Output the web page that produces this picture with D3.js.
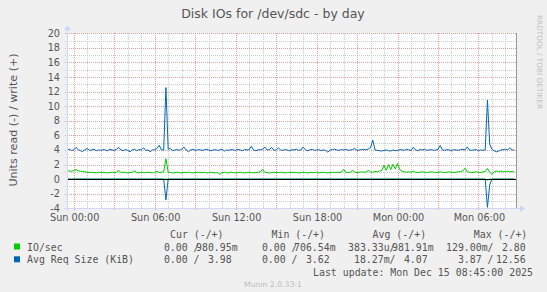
<!DOCTYPE html>
<html>
<head>
<meta charset="utf-8">
<script src="https://cdn.jsdelivr.net/npm/d3@7"></script>
<style>
body { margin: 0; background: #f0f0f0; }
svg { display: block; }
text { font-family: "DejaVu Sans", sans-serif; fill: #555; }
.mono { font-family: "DejaVu Sans Mono", monospace; font-size: 9.9px; white-space: pre; }
</style>
</head>
<body>
<svg width="547" height="292"></svg>
<script>
// samples every 10 minutes, starting Sat 23:30
const start_time = Date.UTC(2025, 11, 13, 23, 30)
const end_time = Date.UTC(2025, 11, 15, 8, 47)
const step_minutes = 10

const io_write = [
    1.1, 1.15, 1.05, 1.2, 1.3, 1.15, 1.1, 1.05, 1.0, 0.95, 0.9, 0.95, 0.9, 0.85, 0.95, 0.9, 0.95, 0.9, 0.85, 0.9,
    0.95, 0.9, 0.95, 1.2, 0.9, 0.95, 0.9, 0.85, 0.9, 0.95, 1.15, 0.9, 0.85, 0.95, 0.9, 0.9, 0.95, 0.9, 0.85, 0.95,
    1.1, 0.9, 0.95, 1.0, 2.8, 0.95, 0.9, 0.85, 0.9, 0.95, 0.9, 0.85, 0.95, 0.9, 0.95, 0.9, 0.85, 0.9, 0.95, 0.9,
    0.9, 0.95, 0.85, 0.9, 0.95, 0.9, 0.85, 0.9, 0.65, 0.9, 0.95, 0.85, 0.9, 0.95, 0.9, 0.85, 0.9, 0.95, 0.9, 0.85,
    0.9, 0.95, 0.9, 0.85, 0.9, 0.95, 1.0, 1.35, 0.95, 0.9, 0.85, 0.9, 0.95, 0.9, 0.9, 0.95, 0.9, 0.85, 0.9, 0.95,
    0.9, 0.95, 0.9, 0.85, 0.9, 0.95, 0.9, 0.85, 0.95, 0.9, 0.9, 0.95, 0.85, 0.9, 0.95, 0.9, 0.85, 0.9, 0.95, 0.9,
    0.95, 0.9, 0.95, 1.35, 0.95, 0.9, 0.95, 1.2, 0.95, 0.9, 0.95, 1.0, 0.95, 0.95, 1.2, 1.0, 0.95, 1.05, 1.0, 1.1,
    1.2, 1.9, 1.2, 2.0, 1.3, 2.05, 1.4, 2.15, 1.3, 1.1, 1.0, 0.95, 1.0, 0.95, 1.1, 0.95, 0.9, 0.95, 1.0, 0.95,
    0.9, 0.95, 1.0, 0.95, 0.9, 0.95, 1.0, 0.95, 0.9, 0.95, 1.0, 0.95, 0.9, 0.95, 1.0, 1.05, 1.1, 1.5, 1.0, 0.95,
    0.9, 0.95, 1.0, 0.95, 0.9, 1.0, 1.05, 1.45, 0.95, 0.65, 1.0, 1.1, 1.05, 1.1, 1.0, 1.05, 1.1, 1.0, 1.05, 0.98
]
// [sample index, value] for the few non-zero read samples
const io_read = [[187, 0.129]]

const req_write = [
    4.0, 4.1, 3.95, 4.0, 4.35, 4.05, 3.9, 3.8, 4.05, 4.2, 3.95, 4.0, 4.1, 3.9, 4.0, 3.95, 4.05, 4.0, 3.9, 4.1,
    4.0, 3.95, 4.1, 4.35, 4.0, 3.9, 4.05, 3.95, 3.75, 4.0, 4.1, 3.9, 4.05, 4.0, 4.3, 3.95, 4.0, 3.75, 4.0, 4.05,
    4.2, 4.65, 4.0, 4.0, 12.56, 4.1, 4.2, 3.9, 4.0, 4.05, 3.95, 4.1, 4.4, 4.0, 3.75, 4.0, 4.1, 3.95, 4.0, 4.05,
    3.95, 4.0, 4.1, 4.0, 3.9, 4.0, 4.05, 3.95, 4.0, 4.1, 3.85, 4.0, 3.95, 4.05, 4.0, 3.95, 4.1, 4.0, 3.9, 4.05,
    4.0, 4.05, 4.5, 4.0, 3.9, 4.0, 4.05, 4.1, 4.4, 4.0, 4.05, 4.35, 3.95, 4.0, 4.3, 4.0, 3.95, 4.05, 4.0, 3.9,
    4.05, 4.0, 4.1, 3.95, 4.0, 4.4, 4.05, 3.9, 4.0, 4.1, 3.95, 4.0, 4.05, 3.9, 4.0, 3.95, 3.7, 4.0, 4.05, 4.1,
    4.0, 3.95, 4.05, 4.0, 4.1, 3.95, 4.0, 4.05, 4.2, 3.95, 4.0, 4.05, 4.1, 4.0, 4.15, 4.3, 5.35, 4.0, 3.95, 3.9,
    3.85, 3.95, 4.0, 3.9, 3.85, 4.0, 3.9, 3.95, 4.05, 4.0, 3.95, 4.1, 4.0, 3.95, 4.35, 4.0, 3.9, 4.05, 4.0, 4.1,
    3.95, 4.0, 4.05, 3.95, 4.0, 4.1, 4.6, 4.0, 3.95, 4.05, 4.0, 3.9, 4.05, 4.0, 3.95, 4.05, 4.1, 4.0, 4.4, 4.0,
    3.95, 4.0, 4.05, 3.9, 4.0, 3.95, 4.0, 10.86, 4.8, 4.1, 3.9, 3.75, 3.85, 4.0, 4.05, 4.1, 4.0, 4.3, 4.0, 3.98
]
const req_read = [[44, 2.85], [187, 3.87], [188, 0.8]]

const y_ticks = [-4, -2, 0, 2, 4, 6, 8, 10, 12, 14, 16, 18, 20]

const legend_labels = ["IO/sec", "Avg Req Size (KiB)"]
const legend_colors = ["#00cc00", "#0066b3"]
const legend_headers = ["Cur (-/+)", "Min (-/+)", "Avg (-/+)", "Max (-/+)"]
// [read, write] per row
const cur_values = [["0.00", "980.95m"], ["0.00", "3.98"]]
const min_values = [["0.00", "706.54m"], ["0.00", "3.62"]]
const avg_values = [["383.33u", "981.91m"], ["18.27m", "4.07"]]
const max_values = [["129.00m", "2.80"], ["3.87", "12.56"]]

const plot_left = 67, plot_right = 516, plot_top = 33.3, plot_bottom = 208.3
const axis_color = "#cfd6f8"
const grid_color = "#cccccc"
const mgrid_color = "#f29a9a"

// legend layout
const header_x = [170, 271.5, 372.6, 473.8]
const column_x = [152, 250, 348, 446]
const write_offset = 44

const svg = d3.select("svg")

const x = d3.scaleUtc().domain([start_time, end_time]).range([plot_left, plot_right])
const y = d3.scaleLinear().domain([-4, 20]).range([plot_bottom, plot_top])

const sample_time = i => start_time + i * step_minutes * 60000

function full_series(values) {
    return values.map((v, i) => ({ t: sample_time(i), v: v }))
}

function read_series(samples) {
    const lookup = new Map(samples)
    return io_write.map((_, i) => ({ t: sample_time(i), v: -(lookup.get(i) || 0) }))
}

// "%6.2lf%s" as rrdtool prints it
function gprint(value) {
    const unit = /[a-zA-Z]$/.test(value) ? value.slice(-1) : " "
    const number = unit === " " ? value : value.slice(0, -1)
    return number.padStart(6, " ") + unit
}

svg.append("rect")
    .attr("x", plot_left).attr("y", plot_top)
    .attr("width", plot_right - plot_left).attr("height", plot_bottom - plot_top)
    .attr("fill", "#ffffff")

const grid = svg.append("g").attr("shape-rendering", "crispEdges")

// minor grid: 1 hour / 1 unit
grid.selectAll(".vminor")
    .data(x.ticks(d3.utcHour.every(1)))
    .enter().append("line")
    .attr("x1", d => Math.round(x(d)) + 0.5).attr("x2", d => Math.round(x(d)) + 0.5)
    .attr("y1", plot_top).attr("y2", plot_bottom)
    .attr("stroke", grid_color).attr("stroke-dasharray", "1,1")

grid.selectAll(".hminor")
    .data(d3.range(-3, 20, 2))
    .enter().append("line")
    .attr("x1", plot_left - 2).attr("x2", plot_right)
    .attr("y1", d => Math.round(y(d)) + 0.5).attr("y2", d => Math.round(y(d)) + 0.5)
    .attr("stroke", grid_color).attr("stroke-dasharray", "1,1")

// major grid: 3 hours / 2 units
grid.selectAll(".vmajor")
    .data(x.ticks(d3.utcHour.every(3)))
    .enter().append("line")
    .attr("x1", d => Math.round(x(d)) + 0.5).attr("x2", d => Math.round(x(d)) + 0.5)
    .attr("y1", plot_top).attr("y2", plot_bottom + 2)
    .attr("stroke", mgrid_color).attr("stroke-dasharray", "1,1")

grid.selectAll(".hmajor")
    .data(y_ticks.filter(d => d !== 0 && d !== -4))
    .enter().append("line")
    .attr("x1", plot_left - 2).attr("x2", plot_right)
    .attr("y1", d => Math.round(y(d)) + 0.5).attr("y2", d => Math.round(y(d)) + 0.5)
    .attr("stroke", mgrid_color).attr("stroke-dasharray", "1,1")

svg.append("clipPath").attr("id", "plot_clip")
    .append("rect")
    .attr("x", plot_left).attr("y", plot_top)
    .attr("width", plot_right - plot_left).attr("height", plot_bottom - plot_top)

const line = d3.line().x(d => x(d.t)).y(d => y(d.v))
const lines = svg.append("g").attr("clip-path", "url(#plot_clip)")

const series = [
    { data: read_series(io_read), color: legend_colors[0] },
    { data: full_series(io_write), color: legend_colors[0] },
    { data: read_series(req_read), color: legend_colors[1] },
    { data: full_series(req_write), color: legend_colors[1] }
]

lines.selectAll("path")
    .data(series)
    .enter().append("path")
    .attr("d", s => line(s.data))
    .attr("fill", "none")
    .attr("stroke", s => s.color)
    .attr("stroke-width", 1)

// zero line
svg.append("line")
    .attr("x1", plot_left).attr("x2", plot_right)
    .attr("y1", Math.round(y(0)) + 0.5).attr("y2", Math.round(y(0)) + 0.5)
    .attr("stroke", "#000").attr("shape-rendering", "crispEdges")

// right edge rule
svg.append("line")
    .attr("x1", plot_right + 0.5).attr("x2", plot_right + 0.5)
    .attr("y1", plot_top).attr("y2", plot_bottom)
    .attr("stroke", "#999").attr("shape-rendering", "crispEdges")

// axes with arrows
svg.append("line")
    .attr("x1", plot_left - 3).attr("x2", plot_right + 5)
    .attr("y1", Math.round(plot_bottom) + 0.5).attr("y2", Math.round(plot_bottom) + 0.5)
    .attr("stroke", axis_color).attr("shape-rendering", "crispEdges")
svg.append("line")
    .attr("x1", plot_left + 0.5).attr("x2", plot_left + 0.5)
    .attr("y1", plot_bottom + 3).attr("y2", plot_top - 4)
    .attr("stroke", axis_color).attr("shape-rendering", "crispEdges")
svg.append("path")
    .attr("d", `M${plot_right + 4},${plot_bottom - 3} L${plot_right + 9},${plot_bottom + 0.5} L${plot_right + 4},${plot_bottom + 4} Z`)
    .attr("fill", axis_color)
svg.append("path")
    .attr("d", `M${plot_left - 3},${plot_top - 3} L${plot_left + 0.5},${plot_top - 8} L${plot_left + 4},${plot_top - 3} Z`)
    .attr("fill", axis_color)

// tick labels
svg.selectAll(".ylab")
    .data(y_ticks)
    .enter().append("text")
    .attr("x", 60).attr("y", d => y(d) + 3.5)
    .attr("text-anchor", "end")
    .attr("font-size", "9.7px")
    .text(d => d)

const time_format = d3.utcFormat("%a %H:%M")
svg.selectAll(".xlab")
    .data(x.ticks(d3.utcHour.every(6)))
    .enter().append("text")
    .attr("x", d => x(d) + 1).attr("y", 221)
    .attr("text-anchor", "middle")
    .attr("font-size", "9.7px")
    .text(d => time_format(d))

// titles
svg.append("text")
    .attr("x", 273).attr("y", 18)
    .attr("text-anchor", "middle")
    .attr("font-size", "12.5px")
    .text("Disk IOs for /dev/sdc - by day")

svg.append("text")
    .attr("transform", "translate(17,120) rotate(-90)")
    .attr("text-anchor", "middle")
    .attr("font-size", "11.1px")
    .text("Units read (-) / write (+)")

svg.append("text")
    .attr("transform", "translate(537,15) rotate(90)")
    .attr("font-size", "7.3px")
    .style("fill", "#c0c0c0")
    .text("RRDTOOL / TOBI OETIKER")

// legend
const legend = svg.append("g")
legend.selectAll(".hdr")
    .data(legend_headers)
    .enter().append("text")
    .attr("class", "mono")
    .attr("x", (d, i) => header_x[i]).attr("y", 238)
    .text(d => d)

const columns = [cur_values, min_values, avg_values, max_values]

legend_labels.forEach((label, r) => {
    const row_y = 250.5 + r * 12.8
    legend.append("rect")
        .attr("x", 14).attr("y", row_y - 7)
        .attr("width", 6).attr("height", 6)
        .attr("fill", legend_colors[r])
    legend.append("text")
        .attr("class", "mono")
        .attr("x", 27).attr("y", row_y)
        .text(label)
    columns.forEach((col, c) => {
        legend.append("text")
            .attr("class", "mono")
            .attr("x", column_x[c]).attr("y", row_y)
            .text(gprint(col[r][0]) + "/")
        legend.append("text")
            .attr("class", "mono")
            .attr("x", column_x[c] + write_offset).attr("y", row_y)
            .text(gprint(col[r][1]))
    })
})

legend.append("text")
    .attr("class", "mono")
    .attr("x", 533).attr("y", 276)
    .attr("text-anchor", "end")
    .text("Last update: Mon Dec 15 08:45:00 2025")

svg.append("text")
    .attr("x", 273).attr("y", 287)
    .attr("text-anchor", "middle")
    .attr("font-size", "7.7px")
    .style("fill", "#bbb")
    .text("Munin 2.0.33-1")
</script>
</body>
</html>
